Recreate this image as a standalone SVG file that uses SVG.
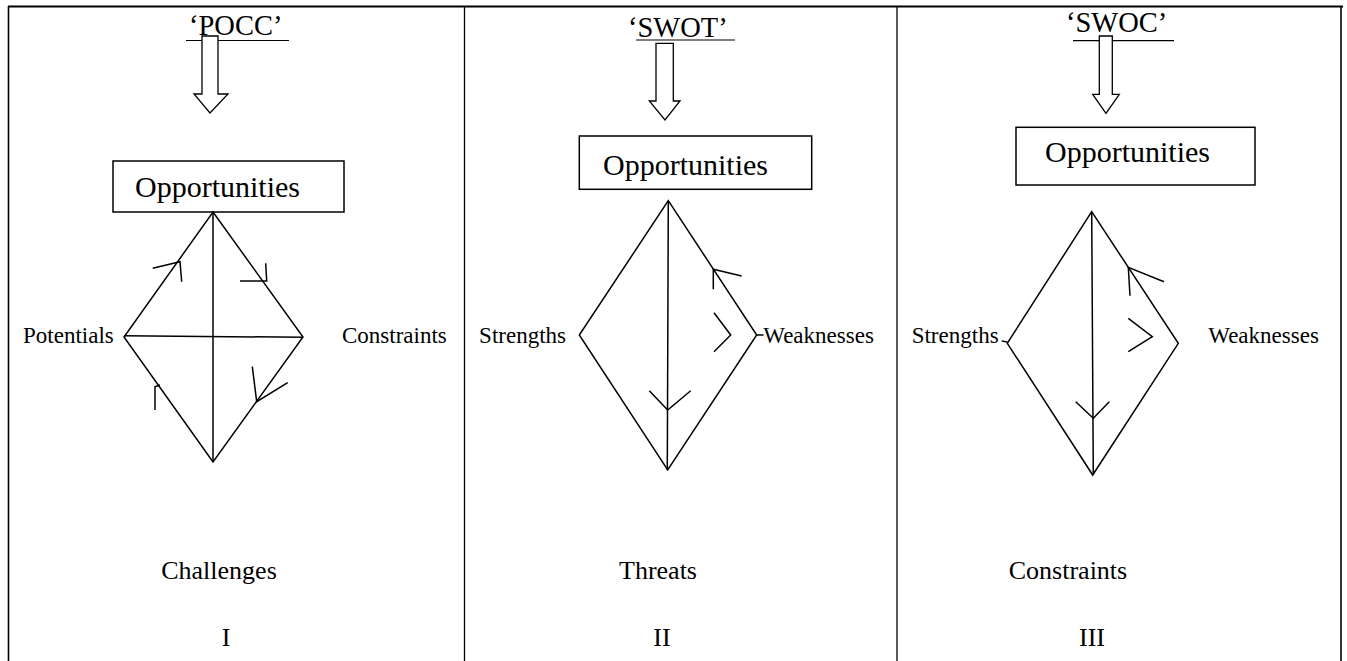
<svg xmlns="http://www.w3.org/2000/svg" width="1347" height="661" viewBox="0 0 1347 661">
  <style>
    text { font-family: "Liberation Serif", "Times New Roman", serif; fill: #000; }
    .title { font-size: 28.5px; }
    .box-label { font-size: 30px; }
    .side { font-size: 23px; }
    .foot { font-size: 26px; text-anchor: middle; }
    .frame { stroke: #000; fill: none; }
    .edge { stroke: #000; stroke-width: 1.5; fill: none; stroke-linejoin: miter; }
    .mark { stroke: #000; stroke-width: 1.5; fill: none; }
    .box { fill: #fff; stroke: #000; stroke-width: 1.5; }
    .block-arrow { fill: #fff; stroke: #000; stroke-width: 1.3; }
    .uline { stroke: #000; stroke-width: 1.2; }
  </style>

  <rect width="1347" height="661" fill="#fff"/>

  <!-- table frame -->
  <g id="table">
    <line class="frame" x1="8" y1="6.5" x2="1343" y2="6.5" stroke-width="1.8"/>
    <line class="frame" x1="8.5" y1="6" x2="8.5" y2="661" stroke-width="1.6"/>
    <line class="frame" x1="464.5" y1="7" x2="464.5" y2="661" stroke-width="1.3"/>
    <line class="frame" x1="897" y1="7" x2="897" y2="661" stroke-width="1.3"/>
    <line class="frame" x1="1341" y1="6" x2="1341" y2="661" stroke-width="1.6"/>
  </g>

  <!-- column I : POCC -->
  <g id="pocc-title">
    <text class="title" x="189" y="35">‘POCC’</text>
    <line class="uline" x1="186" y1="40.5" x2="289" y2="40.5"/>
  </g>
  <g id="pocc-arrow">
    <polygon class="block-arrow" points="202,36 218,36 218,94 228,94 210,113 194,94 202,94"/>
  </g>
  <g id="pocc-opportunities">
    <rect class="box" x="113" y="161" width="231" height="51"/>
    <text class="box-label" x="135" y="197">Opportunities</text>
  </g>
  <g id="pocc-potentials"><text class="side" x="23" y="343">Potentials</text></g>
  <g id="pocc-constraints"><text class="side" x="342" y="343">Constraints</text></g>
  <g id="pocc-challenges"><text class="foot" x="219" y="579">Challenges</text></g>
  <g id="pocc-numeral"><text class="foot" x="226" y="646">I</text></g>

  <!-- column II : SWOT -->
  <g id="swot-title">
    <text class="title" x="628" y="36.5">‘SWOT’</text>
    <line class="uline" x1="636" y1="40" x2="735" y2="40"/>
  </g>
  <g id="swot-arrow">
    <polygon class="block-arrow" points="656,43.3 673.3,43.3 673.3,101 680,101 665,120 649.3,101 656,101"/>
  </g>
  <g id="swot-opportunities">
    <rect class="box" x="579.3" y="136" width="232.4" height="53.3"/>
    <text class="box-label" x="603" y="175">Opportunities</text>
  </g>
  <g id="swot-strengths"><text class="side" x="566" y="342.7" text-anchor="end">Strengths</text></g>
  <g id="swot-weaknesses"><text class="side" x="763.3" y="342.7">Weaknesses</text></g>
  <g id="swot-threats"><text class="foot" x="658" y="579">Threats</text></g>
  <g id="swot-numeral"><text class="foot" x="662" y="646">II</text></g>

  <!-- column III : SWOC -->
  <g id="swoc-title">
    <text class="title" x="1066" y="32">‘SWOC’</text>
    <line class="uline" x1="1073" y1="40.7" x2="1174" y2="40.7"/>
  </g>
  <g id="swoc-arrow">
    <polygon class="block-arrow" points="1099.3,36 1112.3,36 1112.3,94.3 1119.3,94.3 1106,113.3 1092.7,94.3 1099.3,94.3"/>
  </g>
  <g id="swoc-opportunities">
    <rect class="box" x="1016" y="127.3" width="239" height="57.7"/>
    <text class="box-label" x="1045" y="162">Opportunities</text>
  </g>
  <g id="swoc-strengths"><text class="side" x="911.7" y="342.7">Strengths</text></g>
  <g id="swoc-weaknesses"><text class="side" x="1208.3" y="342.7">Weaknesses</text></g>
  <g id="swoc-constraints"><text class="foot" x="1068" y="579">Constraints</text></g>
  <g id="swoc-numeral"><text class="foot" x="1092" y="646">III</text></g>

  <!-- diamond edges, diagonals and direction ticks -->
  <g id="connectors">
    <!-- I -->
    <polygon class="edge" points="213,212 303,337 213,462 124,337"/>
    <line class="edge" x1="213" y1="212" x2="213" y2="462"/>
    <line class="edge" x1="124" y1="335.7" x2="303" y2="337.3"/>
    <polyline class="mark" points="152.7,268.3 180,261.7 181.7,281.7"/>
    <polyline class="mark" points="240,281 266.7,281 265.7,263.3"/>
    <polyline class="mark" points="252.3,366.7 256.7,401.7 287.7,382.7"/>
    <polyline class="mark" points="155,410 155,386.7 160,385"/>

    <!-- II -->
    <polygon class="edge" points="668.3,200.7 756.7,335 667.7,470 579.3,335"/>
    <line class="edge" x1="668.3" y1="200.7" x2="667.3" y2="470"/>
    <polyline class="mark" points="649.3,390.7 667.7,410 690.7,390.7"/>
    <polyline class="mark" points="713.3,289.3 713.3,269.3 741.7,276"/>
    <polyline class="mark" points="714,312.7 730.7,335 714,351.7"/>
    <line class="mark" x1="756.7" y1="335" x2="763.5" y2="335"/>

    <!-- III -->
    <polygon class="edge" points="1091.7,211.7 1178.3,343.3 1092.7,475 1007.3,343.3"/>
    <line class="edge" x1="1091.7" y1="211.7" x2="1093.3" y2="475"/>
    <polyline class="mark" points="1075.7,401.7 1093.3,418.3 1109.3,401.7"/>
    <polyline class="mark" points="1130,295.7 1128.3,267.3 1164,281.7"/>
    <polyline class="mark" points="1128.3,318.3 1152.3,336.7 1128.3,351.7"/>
    <line class="mark" x1="1001.7" y1="341" x2="1007.3" y2="342"/>
  </g>
</svg>
